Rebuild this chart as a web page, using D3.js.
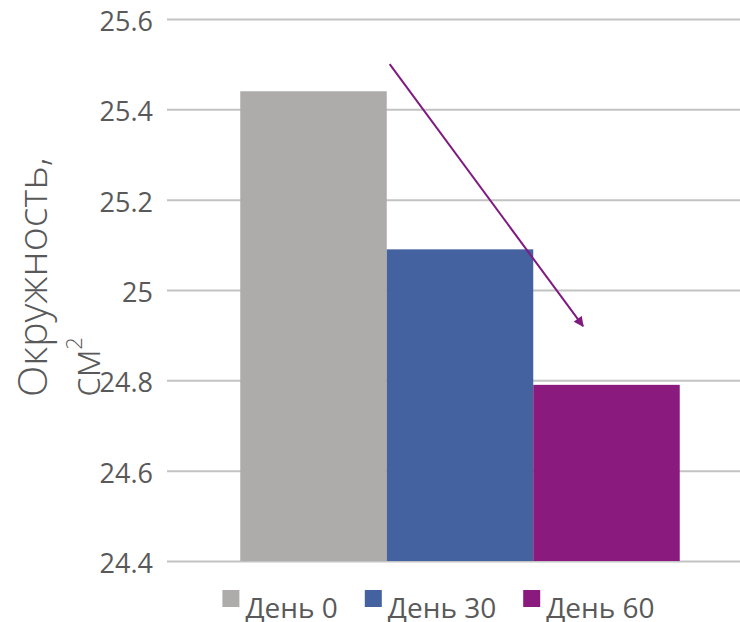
<!DOCTYPE html>
<html>
<head>
<meta charset="utf-8">
<script src="https://cdn.jsdelivr.net/npm/d3@7"></script>
<style>
  body { margin: 0; background: #fff; }
  svg { display: block; font-family: "Open Sans", sans-serif; }
</style>
</head>
<body>
<svg id="chart" width="740" height="622"></svg>
<script>
// data
var categories = ["Окружность"];
var series = ["День 0", "День 30", "День 60"];
var values = [25.44, 25.09, 24.79];
var colors = ["#adacaa", "#44629f", "#8b1a7e"];
var tickValues = [24.4, 24.6, 24.8, 25.0, 25.2, 25.4, 25.6];
var tickLabels = ["24.4", "24.6", "24.8", "25", "25.2", "25.4", "25.6"];
var titleLines = ["Окружность,", "см"];
var titleSup = "2";
// trend arrow, given in series / value terms
var arrowFrom = { series: "День 30", pos: 0.02, value: 25.50 };
var arrowTo = { series: "День 60", pos: 0.34, value: 24.92 };

var svg = d3.select("#chart");
var textColor = "#595959";

var plotLeft = 167, plotRight = 753, plotTop = 19, plotBottom = 561;

var x0 = d3.scaleBand().domain(categories).range([plotLeft, plotRight])
    .paddingInner(0).paddingOuter(0.1667);
var x1 = d3.scaleBand().domain(series).range([0, x0.bandwidth()]).padding(0);
var y = d3.scaleLinear().domain([24.4, 25.6]).range([plotBottom, plotTop]);

// grid + tick labels
var yAxis = d3.axisLeft(y)
    .tickValues(tickValues)
    .tickSize(-(plotRight - plotLeft))
    .tickPadding(14)
    .tickFormat(function(d, i){ return tickLabels[i]; });

var gy = svg.append("g")
    .attr("transform", "translate(" + plotLeft + ",0)")
    .call(yAxis);
gy.select(".domain").remove();
gy.selectAll(".tick line").attr("stroke", "#c3c3c3").attr("stroke-width", 2);
gy.selectAll(".tick text")
    .attr("fill", textColor)
    .attr("font-size", 27)
    .attr("font-family", "Open Sans")
    .attr("dy", "0.42em");

// bars
var rows = series.map(function(s, i){
    return { cat: categories[0], series: s, value: values[i], color: colors[i] };
});

svg.append("g").selectAll("rect")
    .data(rows)
    .join("rect")
    .attr("x", function(d){ return x0(d.cat) + x1(d.series); })
    .attr("y", function(d){ return y(d.value); })
    .attr("width", x1.bandwidth())
    .attr("height", function(d){ return y(24.4) - y(d.value); })
    .attr("fill", function(d){ return d.color; });

// arrow
svg.append("defs").append("marker")
    .attr("id", "head")
    .attr("viewBox", "0 0 10 10")
    .attr("refX", 9).attr("refY", 5)
    .attr("markerWidth", 6).attr("markerHeight", 5)
    .attr("markerUnits", "strokeWidth")
    .attr("orient", "auto")
    .append("path")
    .attr("d", "M0,0 L10,5 L0,10 Z")
    .attr("fill", "#7e1a80");

var ax = function(p){ return x0(categories[0]) + x1(p.series) + p.pos * x1.bandwidth(); };
svg.append("line")
    .attr("x1", ax(arrowFrom)).attr("y1", y(arrowFrom.value))
    .attr("x2", ax(arrowTo)).attr("y2", y(arrowTo.value))
    .attr("stroke", "#7e1a80")
    .attr("stroke-width", 2)
    .attr("marker-end", "url(#head)");

// y title
var title = svg.append("text")
    .attr("transform", "translate(0,397) rotate(-90)")
    .attr("fill", textColor)
    .attr("font-size", 41)
    .attr("font-weight", 300)
    .attr("text-anchor", "start");
title.append("tspan").attr("x", 0).attr("y", 47).text(titleLines[0]);
title.append("tspan").attr("x", 0).attr("y", 100).text(titleLines[1]);
title.append("tspan").attr("dy", -18).attr("font-size", 22).text(titleSup);

// legend
var legend = svg.append("g");
var lx = 0;
var items = legend.selectAll("g")
    .data(rows)
    .join("g");
items.append("rect")
    .attr("width", 17).attr("height", 17)
    .attr("y", 590)
    .attr("fill", function(d){ return d.color; });
items.append("text")
    .attr("x", 23).attr("y", 618)
    .attr("fill", textColor)
    .attr("font-size", 28)
    .text(function(d){ return d.series; });
items.each(function(){
    var g = d3.select(this);
    g.attr("transform", "translate(" + lx + ",0)");
    lx += 23 + g.select("text").node().getComputedTextLength() + 27;
});
var legendW = lx - 27;
legend.attr("transform", "translate(" + (438.5 - legendW / 2) + ",0)");
</script>
</body>
</html>
